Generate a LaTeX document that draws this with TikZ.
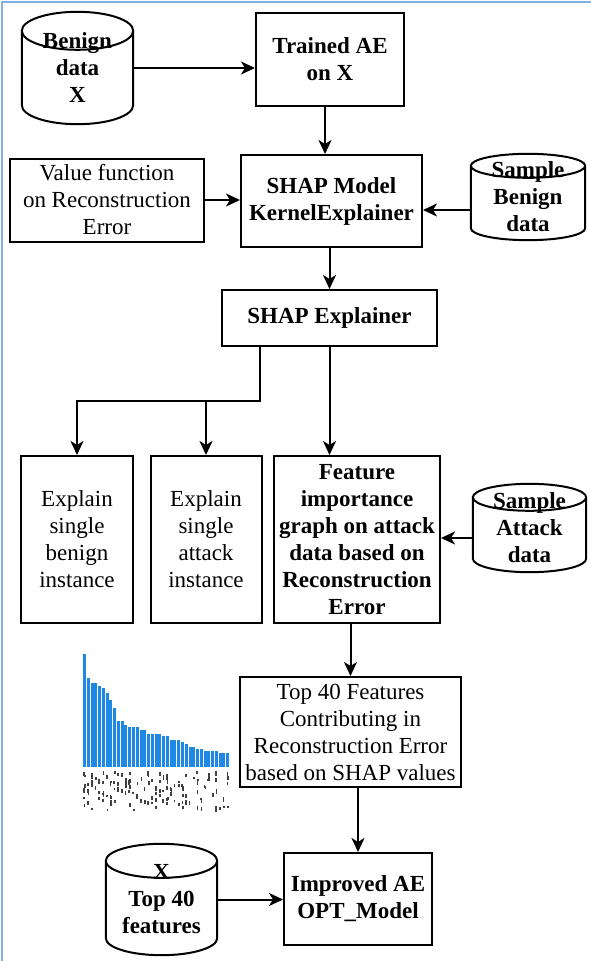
\documentclass[tikz,border=0pt]{standalone}
\usepackage{fontspec}
\setmainfont{Liberation Serif}
\usetikzlibrary{calc,arrows.meta}

\definecolor{barblue}{RGB}{30,136,229}
\definecolor{frameblue}{RGB}{130,176,228}

% outline of a database drum round a named node: #1 node, #2 half height of the end ellipse
\newcommand{\dbcyl}[2]{%
  \draw[line width=2pt] let \p1=(#1.north west), \p2=(#1.south east), \n1={(\x2-\x1)/2} in
    (\x1,{\y1-#2pt}) -- (\x1,{\y2+#2pt})
    arc[start angle=180,end angle=360,x radius=\n1,y radius=#2pt]
    -- (\x2,{\y1-#2pt})
    arc[start angle=0,end angle=360,x radius=\n1,y radius=#2pt];}

\begin{document}
\begin{tikzpicture}
  [x=1pt,y=-1pt,
   every node/.style={font=\fontsize{23}{27}\selectfont,align=center,inner sep=0pt},
   box/.style={draw,line width=2pt,rectangle},
   bbox/.style={box,font=\fontsize{23}{27}\selectfont\bfseries},
   db/.style={rectangle,font=\fontsize{23}{27}\selectfont\bfseries},
   arr/.style={line width=2pt,-{Stealth[length=14pt,width=13pt,inset=4pt]}}]
  \useasboundingbox (0,0) rectangle (591,961);
  \draw[frameblue,line width=2pt] (2,961) -- (2,2) -- (591,2);

  \node[db,minimum width=111,minimum height=112] (benign) at (77.5,68) {Benign\\data\\X};
  \node[bbox,minimum width=148,minimum height=93] (trained) at (330,59.5) {Trained AE\\on X};
  \node[box,minimum width=194,minimum height=83] (valfn) at (107,200) {Value function\\on Reconstruction\\Error};
  \node[bbox,minimum width=181,minimum height=92] (shapm) at (331.5,201) {SHAP Model\\KernelExplainer};
  \node[db,minimum width=114,minimum height=86] (sbenign) at (528,197) {Sample\\Benign\\data};
  \node[bbox,minimum width=215,minimum height=56] (explainer) at (329.5,318) {SHAP Explainer};
  \node[box,minimum width=112,minimum height=167] (sbi) at (77,539.5) {Explain\\single\\benign\\instance};
  \node[box,minimum width=111,minimum height=167] (sai) at (206,539.5) {Explain\\single\\attack\\instance};
  \node[bbox,minimum width=166,minimum height=167] (fig) at (357,539.5) {Feature\\importance\\graph on attack\\data based on\\Reconstruction\\Error};
  \node[db,minimum width=113,minimum height=88] (sattack) at (529.5,528) {Sample\\Attack\\data};
  \node[box,minimum width=221,minimum height=110] (top40) at (350.5,732) {Top 40 Features\\Contributing in\\Reconstruction Error\\based on SHAP values};
  \node[bbox,minimum width=148,minimum height=92] (improved) at (358,899) {Improved AE\\OPT\_Model};
  \node[db,minimum width=111,minimum height=111] (top40f) at (161.5,899.5) {X\\Top 40\\features};

  \dbcyl{benign}{19}
  \dbcyl{sbenign}{12}
  \dbcyl{sattack}{13.5}
  \dbcyl{top40f}{17}

  % summary plot beside the top 40 box
  \foreach \t [count=\i] in {654,678,683,683,686,688,693,700,708,721,721,725,727,727,727,
      730,730,734,734,734,734,736,736,740,740,740,742,744,747,747,749,749,751,751,751,751,753,753,753}
    \fill[barblue] ({83+(\i-1)*3.77},767) rectangle ++(3,{\t-767});
  \pgfmathsetseed{11}
  \foreach \i in {1,...,140} {
    \pgfmathsetmacro\dx{83+int(39*rnd)*3.77+rnd}
    \pgfmathsetmacro\dy{771+38*rnd}
    \fill[black!75] (\dx,\dy) rectangle ++(1.7,{2+3*rnd});
  }

  \coordinate (tin) at (325,106);
  \path (sbenign.west) ++(0,13) coordinate (sbin);
  \path (sattack.west) ++(0,10) coordinate (sain);
  \coordinate (split) at (260,401);

  \draw[arr] (benign.east) -- (benign.east -| trained.west);
  \draw[arr] (tin) -- (tin |- shapm.north);
  \draw[arr] (valfn.east) -- (valfn.east -| shapm.west);
  \draw[arr] (sbin) -- (sbin -| shapm.east);
  \draw[arr] (shapm.south -| explainer.north) -- (explainer.north);
  \draw[arr] (split |- explainer.south) -- (split) -| (sbi.north);
  \draw[arr] (split -| sai.north) -- (sai.north);
  \draw[arr] (explainer.south) -- (explainer.south |- fig.north);
  \draw[arr] (sain) -- (sain -| fig.east);
  \draw[arr] (fig.south -| top40.north) -- (top40.north);
  \draw[arr] (top40.south -| improved.north) -- (improved.north);
  \draw[arr] (top40f.east) -- (top40f.east -| improved.west);
\end{tikzpicture}
\end{document}
